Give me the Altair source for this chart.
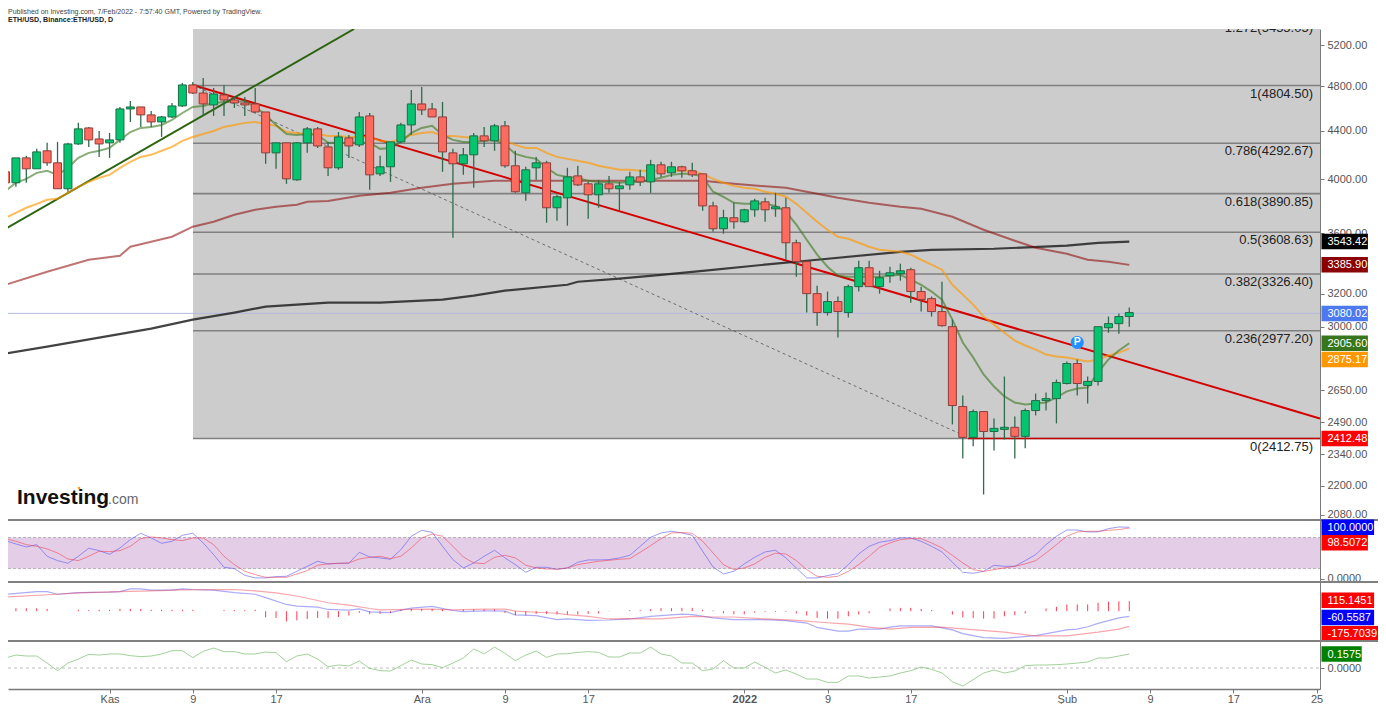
import altair as alt
import pandas as pd

# ---------- candle values ----------
high = [4172,4172,4189,4246,4296,4304,4296,4467,4432,4397,4380,4608,4662,4608,4572,4528,4644,4829,4838,4876,
        4782,4810,4699,4699,4782,4563,4296,4296,4304,4432,4432,4304,4388,4363,4563,4554,4189,4304,4467,4763,
        4791,4644,4653,4246,4254,4380,4432,4458,4484,4230,4100,4180,4148,3882,4092,4108,3981,3997,4028,3981,
        4060,4076,4156,4140,4140,4108,4132,4044,3829,3770,3822,3777,3852,3859,3897,3859,3556,3407,3251,3214,
        3183,3257,3413,3413,3347,3374,3394,3367,3245,3183,3276,3043,2624,2553,2543,2509,2723,2519,2558,2634,
        2639,2707,2804,2815,2723,3001,3061,3079,3115]
open_ = [4060,3974,4172,4084,4230,4132,3928,4287,4423,4329,4296,4321,4590,4608,4537,4475,4519,4617,4810,4735,
         4626,4717,4671,4644,4635,4563,4213,4296,3997,4296,4415,4262,4092,4338,4279,4528,4044,4100,4304,4449,
         4635,4590,4519,4213,4124,4197,4355,4313,4441,4108,3897,4092,4132,3785,3859,4028,3966,3882,3966,3928,
         3958,4020,3981,4116,4052,4100,4068,4044,3799,3633,3712,3683,3770,3829,3777,3785,3535,3407,3201,3085,
         3152,3085,3245,3367,3245,3315,3328,3354,3214,3170,3091,3001,2568,2418,2543,2446,2456,2466,2423,2548,
         2598,2608,2686,2793,2676,2697,2995,3019,3061]
close = [3974,4172,4084,4221,4132,3928,4287,4415,4321,4287,4321,4590,4608,4537,4475,4519,4617,4810,4735,4635,
         4726,4671,4644,4626,4563,4213,4296,4005,4296,4415,4270,4092,4346,4270,4519,4036,4100,4304,4449,4635,
         4581,4519,4221,4124,4197,4355,4313,4441,4108,3905,4076,4132,3785,3867,4020,3958,3882,3966,3928,3950,
         4020,3981,4116,4044,4100,4068,4036,3799,3633,3712,3683,3770,3836,3770,3792,3535,3407,3201,3085,3152,
         3091,3245,3367,3245,3302,3334,3347,3214,3164,3091,3007,2573,2418,2543,2446,2461,2466,2423,2548,2598,
         2608,2691,2793,2686,2697,3001,3019,3061,3085]
low = [3905,3943,3974,4084,4108,3928,3905,4279,4262,4180,4172,4296,4475,4432,4432,4346,4510,4608,4726,4528,
       4528,4528,4599,4528,4554,4124,4084,3966,3989,4213,4254,4028,4076,4172,4262,3920,4028,3981,4296,4363,
       4537,4519,4060,3570,4036,3935,4262,4230,4092,3897,3837,3997,3676,3691,3655,3950,3705,3785,3897,3763,
       3920,3950,3897,4020,4020,4013,4020,3763,3612,3598,3633,3676,3719,3683,3719,3420,3308,3085,3007,3067,
       2938,3055,3214,3245,3201,3270,3283,3145,3091,3061,3001,2480,2320,2376,2163,2357,2408,2320,2367,2524,
       2548,2485,2681,2624,2583,2676,2966,2960,3001]

# ---------- moving averages ----------
ma_fast = [3912,3974,4005,4052,4068,4036,4092,4172,4213,4230,4254,4321,4388,4423,4432,4449,4493,4554,4608,4617,
           4644,4653,4653,4662,4608,4537,4449,4371,4363,4371,4363,4296,4296,4296,4296,4296,4246,4254,4304,4380,
           4423,4441,4363,4321,4304,4304,4313,4321,4279,4205,4180,4164,4092,4036,4020,4013,3989,3981,3981,3974,
           3981,3981,3997,4013,4036,4044,4044,4020,3905,3867,3822,3814,3814,3814,3799,3755,3662,3556,3454,3374,
           3315,3308,3308,3308,3308,3315,3321,3289,3257,3214,3164,3043,2910,2826,2734,2670,2619,2588,2578,2583,
           2588,2614,2645,2660,2665,2745,2815,2865,2905.6]
ma_mid = [3712,3748,3785,3814,3844,3852,3897,3943,3981,4013,4036,4092,4140,4180,4197,4230,4262,4313,4346,4371,
          4397,4432,4449,4467,4475,4458,4441,4388,4380,4371,4371,4355,4355,4346,4346,4346,4313,4304,4329,4363,
          4380,4388,4355,4355,4346,4338,4329,4329,4313,4279,4254,4254,4213,4180,4164,4148,4132,4108,4092,4076,
          4076,4068,4068,4068,4068,4068,4068,4044,4005,3974,3950,3935,3928,3905,3890,3867,3814,3748,3683,3626,
          3577,3563,3535,3508,3487,3480,3473,3454,3420,3387,3354,3257,3195,3133,3061,3013,2966,2921,2893,2870,
          2842,2831,2826,2815,2804,2815,2837,2853,2875.17]
ma_slow_day = [0,4,8,11,12,14,16,18,20,22,24,26,28,29,31,34,37,40,43,47,52,67,70,75,77,80,83,86,88,91,94,97,99,102,104,106,108]
ma_slow = [3257,3341,3420,3447,3508,3542,3577,3648,3683,3734,3770,3792,3807,3829,3836,3874,3897,3935,3966,3989,
           3989,3989,3966,3935,3905,3859,3822,3792,3777,3719,3626,3549,3501,3460,3420,3407,3385.9]
ma_long_day = [0,4,9,14,18,22,25,31,36,42,45,48,54,55,59,63,67,74,77,86,89,95,102,105,108]
ma_long = [2848,2887,2938,2990,3043,3085,3121,3145,3145,3164,3189,3220,3257,3276,3296,3321,3347,3394,3413,3473,
           3487,3494,3515,3535,3543.42]

# ---------- stochastic ----------
stoch_k = [74.1,67.6,61.8,66.3,43.8,35.4,30.2,43.8,59.3,54.7,47.6,59.9,76,88.3,79.2,68.9,72.8,84.4,88.3,69.6,
           47,22.5,19.9,7,1.9,1.9,4.4,5.1,14.7,24.4,34.1,29,30.2,30.2,51.5,42.5,40.6,38,56.7,82.5,
           94.1,90.2,63.1,37.3,21.2,30.9,43.8,55.4,40.6,27.6,12.8,22.5,22.5,18.6,21.2,32.2,36.7,36.7,37.3,40.6,
           45.7,63.1,80.5,88.9,92.2,88.9,84.4,53.5,23.1,9.6,14.7,29,41.8,52.2,55.4,40.6,21.2,1.9,1.9,6.4,
           10.2,27.6,48.3,63.1,70.9,74.1,79.2,79.2,72.8,63.1,52.2,32.2,12.8,10.9,14.7,26.4,24.4,24.4,35.4,47,
           66.3,82.5,94.7,94.7,90.9,90.9,97.3,100.5,100]
stoch_d = [78,72.8,66.3,63.1,58,50.2,38.6,35.4,43.8,53.5,52.8,54.7,63.1,78,81.2,79.2,76,74.1,79.2,79.2,
           66.3,43.8,27.6,14.7,8.3,3.1,3.1,3.1,9.6,16,26.4,29,30.2,30.9,38.6,41.8,43.8,39.3,43.8,59.9,
           79.2,87,82.5,63.1,42.5,30.9,29.6,41.8,45.7,40.6,26.4,21.2,19.3,18.6,21.2,27.6,30.9,34.1,36,38,
           39.3,51.5,64.4,78,88.9,89.6,88.3,72.8,50.2,27.6,18,21.2,29,41.8,49.6,48.3,35.4,18,5.1,3.1,
           5.1,14.7,27.6,43.8,61.2,69.6,76,78,78,69.6,59.9,45.7,30.9,18,14.7,18,21.2,24.4,29,35.4,
           50.2,66.3,82.5,90.9,92.2,92.2,94.1,95.4,98.5]

# ---------- MACD ----------
macd_day = [0,3,4,5,7,10,11,12,13,14,16,17,18,20,22,24,25,27,28,30,31,33,34,35,37,38,39,41,43,44,46,47,48,49,51,53,54,
            56,58,60,62,65,66,68,70,73,75,77,78,80,81,82,84,85,86,89,91,92,94,96,99,102,103,104,105,106,107,108]
macd_line = [196,227,227,196,216,220,227,259,259,243,243,259,251,243,216,196,157,78,59,47,20,12,27,-8,-16,12,35,55,8,-4,4,4,0,-43,-51,-98,-90,
             -106,-102,-90,-59,-35,-39,-78,-98,-98,-110,-137,-188,-231,-231,-208,-208,-184,-169,-169,-216,-259,-306,-314,-282,-216,-208,-180,-141,-110,-78,-60.56]
signal_day = [0,5,7,11,14,17,22,24,26,28,31,33,35,36,39,41,43,46,48,49,51,53,54,56,58,60,63,66,68,70,73,76,78,81,83,85,87,90,92,96,99,102,105,107,108]
signal_line = [165,196,212,227,235,247,251,235,212,176,98,71,31,16,20,24,16,24,24,0,-12,-24,-39,-59,-90,-86,-90,-59,-67,-67,-90,-106,-125,-149,-184,-208,-188,-184,-204,-243,-286,-286,-243,-208,-175.7]
hist = [35,35,35,35,27,0,0,16,12,16,16,27,27,27,16,16,16,16,16,0,0,12,12,12,16,-71,-78,-118,-106,-90,
        -78,-78,-67,-51,-20,-31,-31,-20,16,27,27,27,20,0,20,20,20,20,-20,-47,-47,-31,-31,-39,-39,-39,-31,-27,4,0,
        12,12,24,35,35,39,39,16,8,-24,-35,-35,-16,-8,-8,-8,-27,-51,-78,-86,-86,-59,-39,-24,0,31,39,39,27,12,
        0,-39,-71,-78,-86,-86,-59,-47,-27,0,31,51,78,78,78,98,110,115,115.15]

# ---------- lower oscillator ----------
osc = [.1125,.146,.135,.135,.056,-.03,.056,.101,.154,.146,.158,.158,.139,.128,.135,.158,.195,.195,.116,.188,
       .225,.184,.184,.158,.158,.18,.173,.071,.135,.158,.101,.015,.034,.023,.079,-.004,-.03,-.034,.026,.09,
       .045,.038,.004,.056,.113,.214,.158,.236,.165,.083,.146,.191,.12,.158,.161,.176,.184,.176,.124,.124,
       .169,.169,.236,.158,.135,.056,.056,-.03,-.011,.083,0,0,.068,.008,-.056,-.022,-.068,-.124,-.124,-.161,
       -.161,-.09,-.09,-.113,-.101,-.09,-.056,-.03,.011,-.015,-.056,-.154,-.203,-.131,-.056,-.022,-.056,-.034,.026,.034,
       .034,.038,.045,.056,.068,.113,.113,.135,.1575]

# ---------- levels, labels ----------
fib_ratio = ["1.272","1","0.786","0.618","0.5","0.382","0.236","0"]
fib_price = [5455.05,4804.50,4292.67,3890.85,3608.63,3326.40,2977.20,2412.75]
price_ticks = [2080,2200,2340,2490,2650,3000,3200,3600,4000,4400,4800,5200]
date_ticks = [10,18,26,40,48,56,71,79,87,102,110,118,126]
date_labels = ["Kas","9","17","Ara","9","17","2022","9","17","Şub","9","17","25"]

price_tags = [("3543.42",3543.42,"#000000"),("3385.90",3385.9,"#8b0000"),("3080.02",3080.02,"#4d79f0"),
              ("2905.60",2905.6,"#38761d"),("2875.17",2815,"#ff9800"),("2412.48",2412.48,"#ff0000")]
stoch_tags = [("100.0000",100,"#0000ff"),("98.5072",70,"#ff0000")]
macd_tags = [("115.1451",126,"#ff0000"),("-60.5587",-74,"#0000ff"),("-175.7039",-262,"#ff0000")]
osc_tags = [("0.1575",0.1575,"#008000")]

n = len(close)
assert all(len(a) == n for a in (high, open_, low, ma_fast, ma_mid, stoch_k, stoch_d, hist, osc)), \
    [len(a) for a in (high, open_, low, ma_fast, ma_mid, stoch_k, stoch_d, hist, osc)]
assert len(macd_day) == len(macd_line) and len(signal_day) == len(signal_line)
assert len(ma_slow_day) == len(ma_slow) and len(ma_long_day) == len(ma_long)

DAY_MIN, DAY_MAX = 0.24, 126.33
W = 1312
H_MAIN, H_STOCH, H_MACD, H_OSC = 491, 62, 59, 48
FONT = "Liberation Sans"
AXIS_GREY = "#7a7a7a"
LABEL_GREY = "#555555"

days = list(range(n))
candles = pd.DataFrame({"day": days, "high": high, "low": low, "open": open_, "close": close})
candles["dir"] = ["up" if c >= o else "down" for o, c in zip(open_, close)]

X_SCALE = alt.Scale(domain=[DAY_MIN, DAY_MAX], nice=False, zero=False, padding=0)
X = alt.X("day:Q", scale=X_SCALE, axis=None)
MAIN_SCALE = alt.Scale(type="log", domain=[2058, 5365], nice=False, padding=0)


def right_axis(values, fmt):
    return alt.Axis(orient="right", values=values, format=fmt, grid=False, domainColor=AXIS_GREY,
                    tickColor=AXIS_GREY, tickSize=4, labelColor=LABEL_GREY, labelFont=FONT, labelFontSize=11,
                    labelPadding=3, title=None)


MAIN_AXIS = right_axis(price_ticks, ".2f")


def tags(rows):
    out = []
    for text, pos, color in rows:
        width = 6.2 * len(text) + 3
        d = pd.DataFrame({"p": [pos], "t": [text]})
        out.append(alt.Chart(d).mark_tick(size=width, thickness=15.5, opacity=1, color=color, clip=False)
                   .encode(x=alt.value(W + 1.5 + width / 2), y=alt.Y("p:Q")))
        out.append(alt.Chart(d).mark_text(align="left", baseline="middle", color="#ffffff", font=FONT, fontSize=11, dy=0.5)
                   .encode(x=alt.value(W + 7.5), y=alt.Y("p:Q"), text="t:N"))
    return out


def top_rule():
    return (alt.Chart(pd.DataFrame({"k": [0]})).mark_rule(color="#808080", strokeWidth=1.8)
            .encode(x=alt.value(0), x2=alt.value(W + 58), y=alt.value(0)))


def line(xs, ps, color, width=2, opacity=1.0, dash=None):
    props = dict(color=color, strokeWidth=width, opacity=opacity, clip=True)
    if dash:
        props["strokeDash"] = dash
    return alt.Chart(pd.DataFrame({"day": xs, "p": ps})).mark_line(**props).encode(x=X, y=alt.Y("p:Q"))


def note(text, x, y, **kw):
    return alt.Chart(pd.DataFrame({"t": [text]})).mark_text(align="left", font=FONT, **kw).encode(x=alt.value(x), y=alt.value(y), text="t:N")


# ---------- main pane ----------
fib_df = pd.DataFrame({"p": fib_price, "r": fib_ratio})
fib_df["t"] = [f"{r}({p:.2f})" for r, p in zip(fib_ratio, fib_price)]
fib_df["d0"] = 18.02
fib_df["d1"] = DAY_MAX

bg = alt.Chart(pd.DataFrame({"d0": [18.02], "d1": [DAY_MAX], "p0": [5365], "p1": [2412.75]})).mark_rect(color="#cccccc").encode(
    x=alt.X("d0:Q", scale=X_SCALE, axis=None), x2="d1:Q",
    y=alt.Y("p0:Q", scale=MAIN_SCALE, axis=MAIN_AXIS), y2="p1:Q")

fib_rules = alt.Chart(fib_df[fib_df.p < 5365]).mark_rule(color="#808080", strokeWidth=1.6).encode(
    x=alt.X("d0:Q", scale=X_SCALE, axis=None), x2="d1:Q", y=alt.Y("p:Q"))
fib_text = alt.Chart(fib_df).mark_text(align="right", baseline="middle", dy=8, color="#222222", font=FONT, fontSize=13, clip=True).encode(
    x=alt.value(1305), y=alt.Y("p:Q"), text="t:N")

price_line = alt.Chart(pd.DataFrame({"day": [DAY_MIN, DAY_MAX], "p": [3080.02, 3080.02]})).mark_line(color="#b4b9e0", strokeWidth=1).encode(x=X, y=alt.Y("p:Q"))

layers = [
    bg, fib_rules, fib_text, price_line,
    line([18, 126.33], [4810, 2509], "#d40000", 2),
    line([18, 92.5], [4810, 2418], "#555555", 0.8, dash=[3, 3]),
    line([92.5, DAY_MAX], [2412.75, 2412.75], "#c00000", 1.6),
    line([0, 33.5], [3633, 5365], "#2a6410", 2),
    line(ma_long_day, ma_long, "#222222", 2.2, 0.85),
    line(ma_slow_day, ma_slow, "#8b0000", 2, 0.55),
    line(days, ma_mid, "#ff9800", 2, 0.65),
    line(days, ma_fast, "#38761d", 2, 0.6),
]

wick = alt.Chart(candles).mark_rule(color="#2f6b4c", strokeWidth=1.3, clip=True).encode(x=X, y=alt.Y("low:Q"), y2="high:Q")
body = alt.Chart(candles).mark_bar(size=8, strokeWidth=1, clip=True).encode(
    x=X, y=alt.Y("open:Q"), y2="close:Q",
    fill=alt.Fill("dir:N", scale=alt.Scale(domain=["up", "down"], range=["#05c46f", "#ff6a5f"]), legend=None),
    stroke=alt.Stroke("dir:N", scale=alt.Scale(domain=["up", "down"], range=["#1f6b47", "#8a3f3c"]), legend=None))
layers += [wick, body]

badge_df = pd.DataFrame({"day": [103], "p": [2910], "t": ["P"]})
badge = alt.Chart(badge_df).mark_point(filled=True, size=170, color="#1e90ff", opacity=1).encode(x=X, y=alt.Y("p:Q"))
badge_t = alt.Chart(badge_df).mark_text(color="#ffffff", font=FONT, fontWeight="bold", fontSize=10.5, baseline="middle").encode(x=X, y=alt.Y("p:Q"), text="t:N")
layers += [badge, badge_t]

logo_dot = alt.Chart(pd.DataFrame({"k": [0]})).mark_point(filled=True, size=7, color="#f7a21b", opacity=1).encode(x=alt.value(71), y=alt.value(459))
layers += [
    note("Published on Investing.com, 7/Feb/2022 - 7:57:40 GMT, Powered by TradingView.", 0, -17.5, fontSize=7, color="#444444", baseline="middle"),
    note("ETH/USD, Binance:ETH/USD, D", 0, -9, fontSize=7.1, fontWeight="bold", color="#222222", baseline="middle"),
    note("Investing", 9, 475, fontSize=21, fontWeight="bold", color="#111111", baseline="alphabetic"),
    note(".com", 100, 475, fontSize=14, color="#666666", baseline="alphabetic"),
    logo_dot,
]
layers += tags(price_tags)
main = alt.layer(*layers).properties(width=W, height=H_MAIN)

# ---------- stochastic pane ----------
S_SCALE = alt.Scale(domain=[-6, 114], nice=False, zero=False, padding=0)
band = alt.Chart(pd.DataFrame({"d0": [DAY_MIN], "d1": [DAY_MAX], "p0": [80], "p1": [20]})).mark_rect(color="#e4cde6").encode(
    x=alt.X("d0:Q", scale=X_SCALE, axis=None), x2="d1:Q",
    y=alt.Y("p0:Q", scale=S_SCALE, axis=right_axis([0], ".4f")), y2="p1:Q")
band_lines = alt.Chart(pd.DataFrame({"p": [80, 20], "d0": [DAY_MIN] * 2, "d1": [DAY_MAX] * 2})).mark_rule(color="#b5b0b5", strokeDash=[3, 2], strokeWidth=1).encode(
    x=alt.X("d0:Q", scale=X_SCALE, axis=None), x2="d1:Q", y=alt.Y("p:Q"))
stoch = alt.layer(band, band_lines,
                  line(days, stoch_k, "#5a5af5", 1, 0.6),
                  line(days, stoch_d, "#f03a4a", 1, 0.55),
                  top_rule(), *tags(stoch_tags)).properties(width=W, height=H_STOCH)

# ---------- MACD pane ----------
M_SCALE = alt.Scale(domain=[-345, 338], nice=False, zero=False, padding=0)
M_AXIS = alt.Axis(orient="right", values=[0], grid=False, domainColor=AXIS_GREY, labels=False, ticks=False, title=None)
hist_df = pd.DataFrame({"day": days, "p": hist, "z": [0] * n})
hist_df = hist_df[hist_df.p != 0]
macd = alt.layer(
    alt.Chart(hist_df).mark_rule(color="#ff3d50", strokeWidth=1, clip=True).encode(x=X, y=alt.Y("p:Q", scale=M_SCALE, axis=M_AXIS), y2="z:Q"),
    line(macd_day, macd_line, "#5a5af5", 1.2, 0.5),
    line(signal_day, signal_line, "#f03a4a", 1.2, 0.45),
    top_rule(), *tags(macd_tags)).properties(width=W, height=H_MACD)

# ---------- oscillator pane ----------
O_SCALE = alt.Scale(domain=[-0.236, 0.304], nice=False, zero=False, padding=0)
label_map = ",".join(f"{d}:'{t}'" for d, t in zip(date_ticks, date_labels))
X_AXIS = alt.X("day:Q", scale=X_SCALE,
               axis=alt.Axis(values=date_ticks, grid=False, domainColor=AXIS_GREY, domainWidth=1.5, tickColor=AXIS_GREY, tickSize=4,
                             labelColor=LABEL_GREY, labelFont=FONT, labelFontSize=11, labelPadding=0, labelFlush=False, labelOverlap=False,
                             labelExpr="{" + label_map + "}[datum.value]",
                             labelFontWeight={"condition": {"test": "datum.value == 71", "value": "bold"}, "value": "normal"},
                             title=None))
osc_df = pd.DataFrame({"day": days, "p": osc})
zero_df = pd.DataFrame({"day": [DAY_MIN, DAY_MAX], "p": [0, 0]})
osc_chart = alt.layer(
    alt.Chart(zero_df).mark_line(color="#bdbdbd", strokeDash=[3, 3], strokeWidth=1).encode(
        x=X_AXIS, y=alt.Y("p:Q", scale=O_SCALE, axis=right_axis([0], ".4f"))),
    alt.Chart(osc_df).mark_line(color="#79bd6e", strokeWidth=1, opacity=0.7, clip=True).encode(x=alt.X("day:Q"), y=alt.Y("p:Q")),
    top_rule(), *tags(osc_tags)).properties(width=W, height=H_OSC)

chart = (alt.vconcat(main, stoch, macd, osc_chart, spacing=0, bounds="flush")
         .properties(autosize=alt.AutoSizeParams(type="none"),
                     padding={"left": 0, "top": 21, "right": 58, "bottom": 675})
         .configure_view(stroke=None))

chart.save("out.html", embed_options={"renderer": "svg", "actions": False})
